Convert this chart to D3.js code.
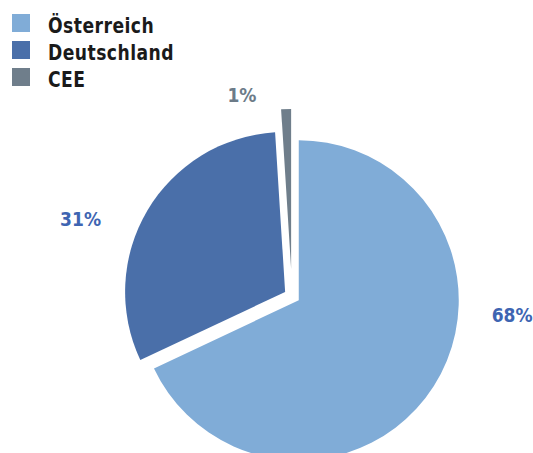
<!DOCTYPE html>
<html>
<head>
<meta charset="utf-8">
<script src="https://cdn.jsdelivr.net/npm/d3@7/dist/d3.min.js"></script>
<style>
  html, body { margin: 0; padding: 0; background: #ffffff; }
  svg { display: block; }
  text { font-family: "DejaVu Sans Condensed", "DejaVu Sans", sans-serif; font-stretch: condensed; font-weight: bold; }
</style>
</head>
<body>
<svg id="chart" width="533" height="453"></svg>
<script>
// Revenue split by region (percent)
const categories = ["Österreich", "Deutschland", "CEE"];
const shares = [68, 31, 1];
const colors = ["#80acd7", "#4a6fa9", "#6f7e8b"];
const labelColors = ["#3e65b2", "#3e65b2", "#6c7b88"];

// Layout
const width = 533, height = 453;
const cx = 292, cy = 296, radius = 160;
const explode = { "Österreich": 8, "Deutschland": 8, "CEE": 27 };
// label anchor: angle (deg, clockwise from 12 o'clock) and distance from centre
const labelAnchor = {
  "Österreich": { angle: 95, dist: 221 },
  "Deutschland": { angle: 290, dist: 225 },
  "CEE": { angle: 346, dist: 207 }
};

const svg = d3.select("#chart");

const pie = d3.pie().sort(null).value(d => d.value);
const arcs = pie(categories.map((c, i) => ({ name: c, value: shares[i], color: colors[i], labelColor: labelColors[i] })));
const arc = d3.arc().innerRadius(0).outerRadius(radius);

const g = svg.append("g").attr("transform", `translate(${cx},${cy})`);

g.selectAll("path.slice")
  .data(arcs)
  .join("path")
  .attr("class", "slice")
  .attr("fill", d => d.data.color)
  .attr("d", arc)
  .attr("transform", d => {
    const mid = (d.startAngle + d.endAngle) / 2;
    const k = explode[d.data.name];
    return `translate(${k * Math.sin(mid)},${-k * Math.cos(mid)})`;
  });

// Percentage labels
g.selectAll("text.pct")
  .data(arcs)
  .join("text")
  .attr("class", "pct")
  .attr("x", d => {
    const a = labelAnchor[d.data.name];
    return a.dist * Math.sin(a.angle * Math.PI / 180);
  })
  .attr("y", d => {
    const a = labelAnchor[d.data.name];
    return -a.dist * Math.cos(a.angle * Math.PI / 180);
  })
  .attr("text-anchor", "middle")
  .attr("dy", "0.35em")
  .attr("font-size", 19)
  .attr("fill", d => d.data.labelColor)
  .text(d => d3.format(".0f")(d.data.value) + "%");

// Legend
const legend = svg.append("g").attr("transform", "translate(12,0)");
const rowY = d3.scalePoint().domain(categories).range([33, 87]);
const rows = legend.selectAll("g.row")
  .data(categories)
  .join("g")
  .attr("class", "row")
  .attr("transform", d => `translate(0,${rowY(d)})`);
rows.append("rect")
  .attr("x", 0).attr("y", -19)
  .attr("width", 18).attr("height", 18)
  .attr("fill", (d, i) => colors[i]);
rows.append("text")
  .attr("transform", "translate(36,0) scale(0.91,1)")
  .attr("font-size", 21)
  .attr("letter-spacing", 0.5)
  .attr("fill", "#1a1a1a")
  .text(d => d);
</script>
</body>
</html>
